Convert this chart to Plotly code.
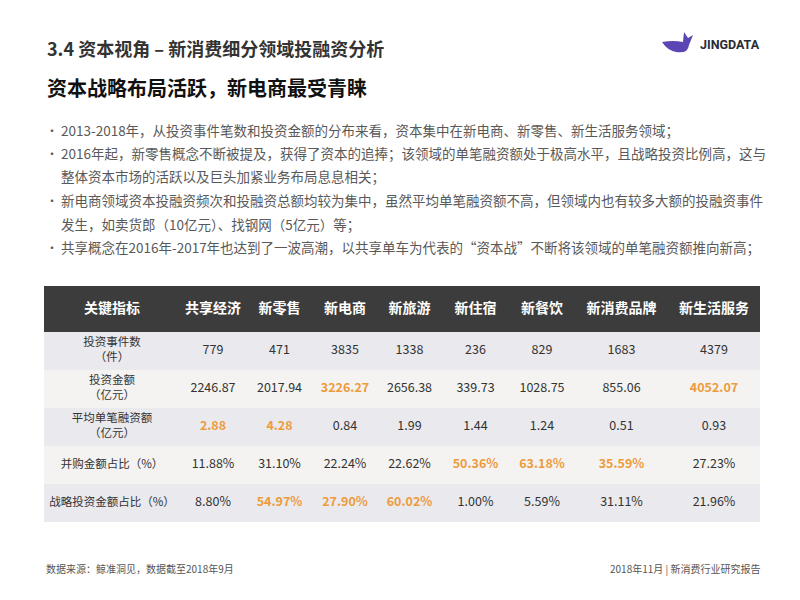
import plotly.graph_objects as go
import numpy as np

# ---- data ----
sectors = ["共享经济", "新零售", "新电商", "新旅游", "新住宿", "新餐饮", "新消费品牌", "新生活服务"]
metrics = ["投资事件数<br>（件）", "投资金额<br>（亿元）", "平均单笔融资额<br>（亿元）",
           "并购金额占比（%）", "战略投资金额占比（%）"]
event_counts = [779, 471, 3835, 1338, 236, 829, 1683, 4379]
invest_amount = [2246.87, 2017.94, 3226.27, 2656.38, 339.73, 1028.75, 855.06, 4052.07]
avg_deal = [2.88, 4.28, 0.84, 1.99, 1.44, 1.24, 0.51, 0.93]
ma_share = [11.88, 31.10, 22.24, 22.62, 50.36, 63.18, 35.59, 27.23]
strategic_share = [8.80, 54.97, 27.90, 60.02, 1.00, 5.59, 31.11, 21.96]
# sectors printed in orange in each metric row
highlights = [[], ["新电商", "新生活服务"], ["共享经济", "新零售"],
              ["新住宿", "新餐饮", "新消费品牌"], ["新零售", "新电商", "新旅游"]]

title = "3.4 资本视角 – 新消费细分领域投融资分析"
subtitle = "资本战略布局活跃，新电商最受青睐"
bullet_lines = [
    "2013-2018年，从投资事件笔数和投资金额的分布来看，资本集中在新电商、新零售、新生活服务领域；",
    "2016年起，新零售概念不断被提及，获得了资本的追捧；该领域的单笔融资额处于极高水平，且战略投资比例高，这与",
    "整体资本市场的活跃以及巨头加紧业务布局息息相关；",
    "新电商领域资本投融资频次和投融资总额均较为集中，虽然平均单笔融资额不高，但领域内也有较多大额的投融资事件",
    "发生，如卖货郎（10亿元）、找钢网（5亿元）等；",
    "共享概念在2016年-2017年也达到了一波高潮，以共享单车为代表的“资本战”不断将该领域的单笔融资额推向新高；",
]
bullet_start = [True, True, False, True, False, True]
source_note = "数据来源：鲸准洞见，数据截至2018年9月"
footer_right = "2018年11月 | 新消费行业研究报告"

# ---- layout helpers ----
W, H = 800, 600
OFF = 8  # page body margin, positions below are screen pixels
FONT = "Noto Sans CJK SC"
ORANGE = "#EE9B3C"


def px(x):
    return (x - OFF) / W


def py(y):
    return 1 - (y - OFF) / H


col_w = [136, 66, 67, 64, 65, 67, 66, 93, 92]
row_h = [46, 38, 38, 38, 38, 38]
x_edges = np.concatenate([[0], np.cumsum(col_w)])
y_edges = np.concatenate([[0], np.cumsum(row_h)])
x_mid = (x_edges[:-1] + x_edges[1:]) / 2
y_mid = (y_edges[:-1] + y_edges[1:]) / 2

value_rows = [
    [str(v) for v in event_counts],
    ["%.2f" % v for v in invest_amount],
    ["%.2f" % v for v in avg_deal],
    ["%.2f%%" % v for v in ma_share],
    ["%.2f%%" % v for v in strategic_share],
]

fig = go.Figure()

# cell backgrounds: header dark, then alternating grey / warm white rows
row_kind = [0, 1, 2, 1, 2, 1]
z = [[k] * len(col_w) for k in row_kind]
fig.add_trace(go.Heatmap(
    x=x_edges, y=y_edges, z=z, zmin=0, zmax=2,
    colorscale=[[0, "#3c3c3c"], [0.5, "#e9e9ee"], [1, "#f4f3f1"]],
    showscale=False, hoverinfo="skip",
))

# header text
fig.add_trace(go.Scatter(
    x=x_mid, y=[y_mid[0]] * len(x_mid), mode="text",
    text=["<b>%s</b>" % s for s in ["关键指标"] + sectors],
    textfont=dict(family=FONT, size=14, color="white"),
    hoverinfo="skip",
))

# metric labels
fig.add_trace(go.Scatter(
    x=[x_mid[0]] * len(metrics), y=y_mid[1:], mode="text",
    text=metrics,
    textfont=dict(family=FONT, size=11.5, color="#333333"),
    hoverinfo="skip",
))

# values
vx, vy, vt, vc = [], [], [], []
for r, row in enumerate(value_rows):
    for c, s in enumerate(row):
        hot = sectors[c] in highlights[r]
        vx.append(x_mid[c + 1])
        vy.append(y_mid[r + 1])
        vt.append("<b>%s</b>" % s if hot else s)
        vc.append(ORANGE if hot else "#333333")
fig.add_trace(go.Scatter(
    x=vx, y=vy, mode="text", text=vt,
    textfont=dict(family=FONT, size=12.5, color=vc),
    hoverinfo="skip",
))

fig.update_xaxes(domain=[px(44), px(760)], range=[0, x_edges[-1]],
                 visible=False, fixedrange=True)
fig.update_yaxes(domain=[py(522), py(286)], range=[y_edges[-1], 0],
                 visible=False, fixedrange=True)

ann = []
ann.append(dict(x=px(45), y=py(48), text="<b>%s</b>" % title,
                font=dict(family=FONT, size=18, color="#333333")))
ann.append(dict(x=px(45), y=py(88), text="<b>%s</b>" % subtitle,
                font=dict(family=FONT, size=20, color="#111111")))
line_y = [130, 153, 176, 200, 224, 247]
for yy, txt, b in zip(line_y, bullet_lines, bullet_start):
    if b:
        ann.append(dict(x=px(44), y=py(yy), text="•",
                        font=dict(family=FONT, size=12, color="#595959")))
    ann.append(dict(x=px(59), y=py(yy), text=txt,
                    font=dict(family=FONT, size=13.5, color="#595959")))
ann.append(dict(x=px(44), y=py(568), text=source_note,
                font=dict(family=FONT, size=10, color="#555555")))
ann.append(dict(x=px(762), y=py(568), text=footer_right, xanchor="right",
                font=dict(family=FONT, size=10, color="#555555")))
ann.append(dict(x=px(698), y=py(44), text="<b>JINGDATA</b>",
                font=dict(family="Roboto", size=12.5, color="#2a2a35")))
for a in ann:
    a.setdefault("xanchor", "left")
    a.update(xref="paper", yref="paper", yanchor="middle", showarrow=False)

# logo mark (whale tail)
pts = "M {} {} Q {} {} {} {} L {} {} L {} {} L {} {} L {} {} Q {} {} {} {} Q {} {} {} {} Z"
coords = [(662, 42), (673, 40), (683, 42), (684, 32), (688, 38), (693, 35),
          (689, 45), (688, 54), (676, 52), (667, 50), (662, 42)]
path = pts.format(*[v for (x, y) in coords for v in (px(x), py(y))])
logo = dict(type="path", path=path, xref="paper", yref="paper",
            fillcolor="#5b46b4", line=dict(width=0))

fig.update_layout(
    width=W, height=H, margin=dict(l=0, r=0, t=0, b=0),
    paper_bgcolor="white", plot_bgcolor="white",
    showlegend=False, annotations=ann, shapes=[logo],
)

fig.write_html("out.html")
